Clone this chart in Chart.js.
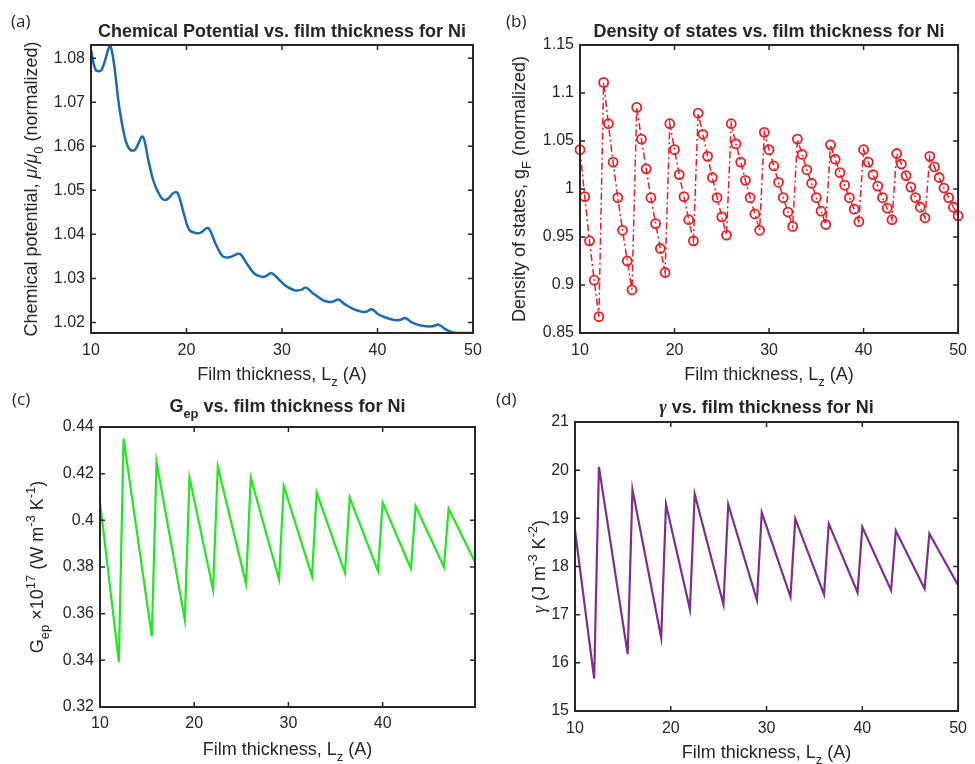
<!DOCTYPE html>
<html>
<head>
<meta charset="utf-8">
<script src="https://cdn.jsdelivr.net/npm/chart.js@4.4.0/dist/chart.umd.min.js"></script>
<style>
html, body { margin: 0; padding: 0; background: #fff; }
#wrap { position: relative; width: 975px; height: 764px; }
#wrap canvas { position: absolute; left: 0; top: 0; }
</style>
</head>
<body>
<div id="wrap">
  <canvas id="cA" width="975" height="764"></canvas>
  <canvas id="cB" width="975" height="764"></canvas>
  <canvas id="cC" width="975" height="764"></canvas>
  <canvas id="cD" width="975" height="764"></canvas>
</div>
<script>
// (a) chemical potential
const muX = [10, 10.5, 11.1, 12.0, 13.0, 13.6, 14.1, 14.6, 15.4, 16.0, 16.5, 17.0, 17.5, 18.0, 18.7, 19.1,
  19.8, 20.3, 21.0, 21.5, 22.1, 22.4, 23.1, 23.8, 24.5, 25.4, 25.7, 26.4, 27.1, 27.8, 28.3, 28.9,
  29.7, 30.4, 31.3, 32.0, 32.5, 33.2, 34.1, 34.8, 35.3, 35.9, 36.6, 37.5, 38.4, 38.9, 39.4,
  40.1, 41.0, 41.9, 42.4, 42.9, 43.6, 44.5, 45.4, 45.9, 46.4, 47.1, 47.8, 48.5, 50];
const muY = [1.0819, 1.0773, 1.0773, 1.0830, 1.0683, 1.0615, 1.0592, 1.0592, 1.0622, 1.0569, 1.0524, 1.0497, 1.0480, 1.0480, 1.0495, 1.0493,
  1.0441, 1.0410, 1.0403, 1.0404, 1.0414, 1.0412, 1.0376, 1.0350, 1.0348, 1.0356, 1.0354, 1.0331, 1.0311, 1.0304, 1.0305, 1.0312,
  1.0297, 1.0283, 1.0273, 1.0274, 1.0279, 1.0267, 1.0253, 1.0247, 1.0247, 1.0252, 1.0241, 1.0230, 1.0224, 1.0225, 1.0230,
  1.0218, 1.0210, 1.0205, 1.0206, 1.0210, 1.0200, 1.0193, 1.0191, 1.0192, 1.0195, 1.0185, 1.0178, 1.0176, 1.0176];

// (b) density of states, one marker every 0.5 A
const dosX = [10, 10.5, 11, 11.5, 12, 12.5, 13, 13.5, 14, 14.5, 15, 15.5, 16, 16.5, 17, 17.5, 18, 18.5, 19, 19.5,
  20, 20.5, 21, 21.5, 22, 22.5, 23, 23.5, 24, 24.5, 25, 25.5, 26, 26.5, 27, 27.5, 28, 28.5, 29, 29.5,
  30, 30.5, 31, 31.5, 32, 32.5, 33, 33.5, 34, 34.5, 35, 35.5, 36, 36.5, 37, 37.5, 38, 38.5, 39, 39.5,
  40, 40.5, 41, 41.5, 42, 42.5, 43, 43.5, 44, 44.5, 45, 45.5, 46, 46.5, 47, 47.5, 48, 48.5, 49, 49.5, 50];
const dosY = [1.041, 0.992, 0.946, 0.905, 0.867, 1.111, 1.068, 1.028, 0.991, 0.957, 0.925, 0.895, 1.085, 1.052, 1.021, 0.991, 0.964, 0.938, 0.913, 1.068,
  1.041, 1.015, 0.992, 0.968, 0.946, 1.079, 1.057, 1.034, 1.012, 0.991, 0.971, 0.952, 1.068, 1.047, 1.028, 1.009, 0.991, 0.974, 0.957, 1.059,
  1.041, 1.024, 1.007, 0.991, 0.976, 0.961, 1.052, 1.036, 1.020, 1.006, 0.991, 0.977, 0.963, 1.046, 1.031, 1.017, 1.004, 0.991, 0.979, 0.966,
  1.041, 1.028, 1.015, 1.003, 0.991, 0.980, 0.968, 1.037, 1.026, 1.014, 1.002, 0.991, 0.981, 0.970, 1.034, 1.023, 1.012, 1.001, 0.991, 0.981, 0.972];

// (c) G_ep, corners of the sawtooth
const gepX = [10, 12, 12.5, 15.5, 16, 19, 19.5, 22, 22.5, 25.5, 26, 29, 29.5, 32.5, 33, 36, 36.5, 39.5, 40, 43, 43.5, 46.5, 47, 49.8];
const gepY = [0.4079, 0.3393, 0.4350, 0.3503, 0.4250, 0.3574, 0.4183, 0.3703, 0.4231, 0.3729, 0.4183, 0.3747,
  0.4147, 0.3761, 0.4119, 0.3774, 0.4097, 0.3783, 0.4076, 0.3793, 0.4061, 0.3800, 0.4050, 0.3821];

// (d) gamma, corners of the sawtooth
const gamX = [10, 12, 12.5, 15.5, 16, 19, 19.5, 22, 22.5, 25.5, 26, 29, 29.5, 32.5, 33, 36, 36.5, 39.5, 40, 43, 43.5, 46.5, 47, 50];
const gamY = [18.75, 15.67, 20.07, 16.18, 19.60, 16.52, 19.29, 17.11, 19.50, 17.21, 19.29, 17.30,
  19.12, 17.37, 18.99, 17.42, 18.89, 17.46, 18.82, 17.51, 18.74, 17.54, 18.68, 17.61];

const FONT = '"Liberation Sans", Arial, Helvetica, sans-serif';
const INK = '#262626';
const Y_W = 60, X_H = 40;

const xTitle = [['Film thickness, L'], ['z', 'sub'], [' (A)']];

function segFont(seg, size, bold) {
  const mode = seg[1] || '';
  const s = (mode === 'sub' || mode === 'sup') ? size * 0.72 : size;
  const w = bold ? 'bold ' : '';
  if (mode === 'it') return 'italic ' + w + s + 'px ' + FONT;
  if (mode === 'sym') return 'italic ' + w + s + 'px "Liberation Serif", "DejaVu Serif", serif';
  return w + s + 'px ' + FONT;
}

function drawRich(ctx, segs, x, y, size, bold, rotate) {
  ctx.save();
  ctx.translate(x, y);
  if (rotate) ctx.rotate(-Math.PI / 2);
  let total = 0;
  segs.forEach(sg => { ctx.font = segFont(sg, size, bold); total += ctx.measureText(sg[0]).width; });
  let cx = -total / 2;
  ctx.fillStyle = INK;
  ctx.textBaseline = 'alphabetic';
  ctx.textAlign = 'left';
  segs.forEach(sg => {
    ctx.font = segFont(sg, size, bold);
    let dy = 0;
    if (sg[1] === 'sub') dy = size * 0.32;
    if (sg[1] === 'sup') dy = -size * 0.42;
    ctx.fillText(sg[0], cx, dy);
    cx += ctx.measureText(sg[0]).width;
  });
  ctx.restore();
}

// box with inward ticks on all four sides, plus titles
const frame = {
  id: 'frame',
  afterDatasetsDraw(chart, args, o) {
    const { ctx, chartArea: a, scales } = chart;
    ctx.save();
    ctx.strokeStyle = INK;
    ctx.lineWidth = 1.5;
    const tl = 5;
    ctx.beginPath();
    scales.x.ticks.forEach(t => {
      const px = scales.x.getPixelForValue(t.value);
      ctx.moveTo(px, a.bottom); ctx.lineTo(px, a.bottom - tl);
      ctx.moveTo(px, a.top); ctx.lineTo(px, a.top + tl);
    });
    scales.y.ticks.forEach(t => {
      const py = scales.y.getPixelForValue(t.value);
      ctx.moveTo(a.left, py); ctx.lineTo(a.left + tl, py);
      ctx.moveTo(a.right, py); ctx.lineTo(a.right - tl, py);
    });
    ctx.stroke();
    ctx.lineWidth = 2;
    ctx.strokeRect(a.left, a.top, a.right - a.left, a.bottom - a.top);

    const cx = (a.left + a.right) / 2, cy = (a.top + a.bottom) / 2;
    drawRich(ctx, o.title, cx, a.top - o.titleDy, 18, true, false);
    drawRich(ctx, xTitle, cx, a.bottom + o.xDy, 18, false, false);
    drawRich(ctx, o.yTitle, a.left - o.yDx, cy, 18, false, true);
    ctx.font = '17px "Open Sans", ' + FONT;
    ctx.fillStyle = INK;
    ctx.fillText(o.panel, o.px, o.py);
    ctx.restore();
  }
};

function fmt(v) { return String(+v.toFixed(3)); }

function makeChart(id, area, xr, yr, dataset, labels) {
  const pts = dataset.xs.map((x, i) => ({ x: x, y: dataset.ys[i] }));
  delete dataset.xs; delete dataset.ys;
  dataset.data = pts;
  new Chart(document.getElementById(id), {
    type: 'scatter',
    data: { datasets: [dataset] },
    options: {
      responsive: false,
      animation: false,
      events: [],
      layout: { padding: { left: area.l - Y_W, top: area.t, right: 975 - area.r, bottom: 764 - area.b - X_H } },
      plugins: { legend: { display: false }, tooltip: { enabled: false }, frame: labels },
      scales: {
        x: {
          type: 'linear', min: xr[0], max: xr[1],
          afterFit: s => { s.height = X_H; },
          grid: { display: false, drawTicks: false },
          border: { display: false },
          ticks: { stepSize: 10, includeBounds: false, autoSkip: false, maxRotation: 0, padding: labels.tickPad,
            font: { family: FONT, size: 16 }, color: INK, callback: fmt }
        },
        y: {
          type: 'linear', min: yr[0], max: yr[1],
          afterFit: s => { s.width = Y_W; },
          grid: { display: false, drawTicks: false },
          border: { display: false },
          ticks: { stepSize: yr[2], includeBounds: false, autoSkip: false, padding: 6,
            font: { family: FONT, size: 16 }, color: INK, callback: fmt }
        }
      }
    },
    plugins: [frame]
  });
}

makeChart('cA', { l: 91, t: 45, r: 473, b: 333 }, [10, 50], [1.0176, 1.083, 0.01], {
  xs: muX, ys: muY, showLine: true, borderColor: '#1b6bb0', borderWidth: 2.5,
  pointRadius: 0, tension: 0.35
}, {
  title: [['Chemical Potential vs. film thickness for Ni']], titleDy: 8, xDy: 47, yDx: 54, tickPad: 8,
  yTitle: [['Chemical potential, '], ['\u03bc/\u03bc', 'it'], ['0', 'sub'], [' (normalized)']],
  panel: '(a)', px: 11, py: 27
});

makeChart('cB', { l: 580, t: 45, r: 961, b: 333 }, [10, 50], [0.85, 1.15, 0.05], {
  xs: dosX, ys: dosY, showLine: true, borderColor: '#ec1c24', borderWidth: 1.5, borderDash: [7, 3, 2, 3],
  pointRadius: 4.5, pointBorderWidth: 1.8, pointBorderColor: '#ec1c24', pointBackgroundColor: 'rgba(0,0,0,0)',
  clip: false
}, {
  title: [['Density of states vs. film thickness for Ni']], titleDy: 8, xDy: 47, yDx: 55, tickPad: 8,
  yTitle: [['Density of states, g'], ['F', 'sub'], [' (normalized)']],
  panel: '(b)', px: 506, py: 27
});

makeChart('cC', { l: 100, t: 427, r: 475, b: 707 }, [10, 49.8], [0.32, 0.44, 0.02], {
  xs: gepX, ys: gepY, showLine: true, borderColor: '#22e622', borderWidth: 2.2, pointRadius: 0
}, {
  title: [['G'], ['ep', 'sub'], [' vs. film thickness for Ni']], titleDy: 15, xDy: 48, yDx: 57, tickPad: 7,
  yTitle: [['G'], ['ep', 'sub'], [' \u00d710'], ['17', 'sup'], [' (W m'], ['-3', 'sup'], [' K'], ['-1', 'sup'], [')']],
  panel: '(c)', px: 12, py: 405
});

makeChart('cD', { l: 575, t: 422, r: 964, b: 711 }, [10, 50], [15, 21, 1], {
  xs: gamX, ys: gamY, showLine: true, borderColor: '#7e2f8e', borderWidth: 2.2, pointRadius: 0
}, {
  title: [['\u03b3', 'sym'], [' vs. film thickness for Ni']], titleDy: 9, xDy: 47, yDx: 30, tickPad: 8,
  yTitle: [['\u03b3', 'sym'], [' (J m'], ['-3', 'sup'], [' K'], ['-2', 'sup'], [')']],
  panel: '(d)', px: 496, py: 405
});
</script>
</body>
</html>
